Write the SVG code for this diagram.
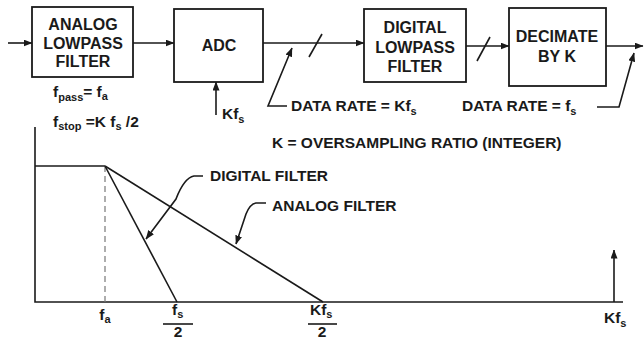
<svg xmlns="http://www.w3.org/2000/svg" width="644" height="346" viewBox="0 0 644 346">
<defs>
<marker id="ah" markerWidth="9" markerHeight="7" refX="8.5" refY="3.5" orient="auto" markerUnits="userSpaceOnUse">
<path d="M0,0 L9,3.5 L0,7 Z" fill="#1a1a1a"/>
</marker>
</defs>
<style>
.bx{fill:#fff;stroke:#1a1a1a;stroke-width:1.8}
.ln{fill:none;stroke:#1a1a1a;stroke-width:1.6}
.t{font-family:"Liberation Sans",Arial,sans-serif;font-weight:bold;font-size:15.5px;fill:#1a1a1a}
.tb{font-family:"Liberation Sans",Arial,sans-serif;font-weight:bold;font-size:16px;fill:#1a1a1a;text-anchor:middle}
.m{text-anchor:middle}
.sub{font-size:11px}
</style>
<rect width="644" height="346" fill="#fff"/>

<g id="connectors">
<line class="ln" x1="8" y1="43" x2="32" y2="43" marker-end="url(#ah)"/>
<line class="ln" x1="133" y1="43" x2="174" y2="43" marker-end="url(#ah)"/>
<line class="ln" x1="263" y1="43" x2="364" y2="43" marker-end="url(#ah)"/>
<line class="ln" x1="309" y1="57" x2="322" y2="34"/>
<line class="ln" x1="466" y1="46" x2="509" y2="46" marker-end="url(#ah)"/>
<line class="ln" x1="477" y1="61" x2="490" y2="37"/>
<line class="ln" x1="606" y1="46" x2="643" y2="46" marker-end="url(#ah)"/>
<line class="ln" x1="216" y1="115" x2="216" y2="82" marker-end="url(#ah)"/>
<polyline class="ln" points="287,106 268,106 292,48" marker-end="url(#ah)"/>
<polyline class="ln" points="597,107 619,107 634,53" marker-end="url(#ah)"/>
</g>

<g id="analog-filter">
<rect class="bx" x="32" y="7" width="101" height="70"/>
<text class="tb" x="83" y="30">ANALOG</text>
<text class="tb" x="83" y="48.5">LOWPASS</text>
<text class="tb" x="83" y="67">FILTER</text>
</g>
<g id="adc">
<rect class="bx" x="174" y="9" width="89" height="73"/>
<text class="tb" x="219" y="51">ADC</text>
</g>
<g id="digital-filter">
<rect class="bx" x="364" y="9" width="102" height="73"/>
<text class="tb" x="415" y="33">DIGITAL</text>
<text class="tb" x="415" y="53">LOWPASS</text>
<text class="tb" x="415" y="72">FILTER</text>
</g>
<g id="decimate">
<rect class="bx" x="509" y="8" width="97" height="78"/>
<text class="tb" x="557" y="42">DECIMATE</text>
<text class="tb" x="557" y="62">BY K</text>
</g>

<g id="labels">
<text class="t" x="53" y="97">f<tspan class="sub" dy="4">pass</tspan><tspan dy="-4">= f</tspan><tspan class="sub" dy="3">a</tspan></text>
<text class="t" x="53" y="127">f<tspan class="sub" dy="3">stop</tspan><tspan dy="-3"> =K f</tspan><tspan class="sub" dy="3">s</tspan><tspan dy="-3"> /2</tspan></text>
<text class="t" x="222" y="119">Kf<tspan class="sub" dy="4">s</tspan></text>
<text class="t" x="291" y="111">DATA RATE = Kf<tspan class="sub" dy="4">s</tspan></text>
<text class="t" x="462" y="111">DATA RATE = f<tspan class="sub" dy="4">s</tspan></text>
<text class="t" x="272" y="148">K = OVERSAMPLING RATIO (INTEGER)</text>
</g>

<g id="plot">
<polyline class="ln" points="35,127 35,302 623,302"/>
<line class="ln" x1="35" y1="166" x2="105" y2="166"/>
<line x1="105" y1="166" x2="105" y2="302" stroke="#777" stroke-dasharray="6,4" stroke-width="1.2"/>
<line class="ln" x1="105" y1="166" x2="177" y2="302"/>
<line class="ln" x1="105" y1="166" x2="323" y2="302"/>
<line class="ln" x1="614" y1="302" x2="614" y2="250" marker-end="url(#ah)"/>
<path class="ln" d="M203,176 L194,176 Q184,178 176,199 L146,239" marker-end="url(#ah)"/>
<path class="ln" d="M266,203 L256,203 Q250,204 246,214 L236,244" marker-end="url(#ah)"/>
<text class="t" x="210" y="181">DIGITAL FILTER</text>
<text class="t" x="272" y="211">ANALOG FILTER</text>
<text class="t m" x="105" y="320">f<tspan class="sub" dy="3">a</tspan></text>
<text class="t" x="172" y="315">f<tspan class="sub" dy="3">s</tspan></text>
<line class="ln" x1="163" y1="324" x2="193" y2="324"/>
<text class="t m" x="178" y="337">2</text>
<text class="t" x="310" y="315">Kf<tspan class="sub" dy="3">s</tspan></text>
<line class="ln" x1="308" y1="324" x2="337" y2="324"/>
<text class="t m" x="322" y="337">2</text>
<text class="t" x="604" y="323">Kf<tspan class="sub" dy="4">s</tspan></text>
</g>
</svg>
